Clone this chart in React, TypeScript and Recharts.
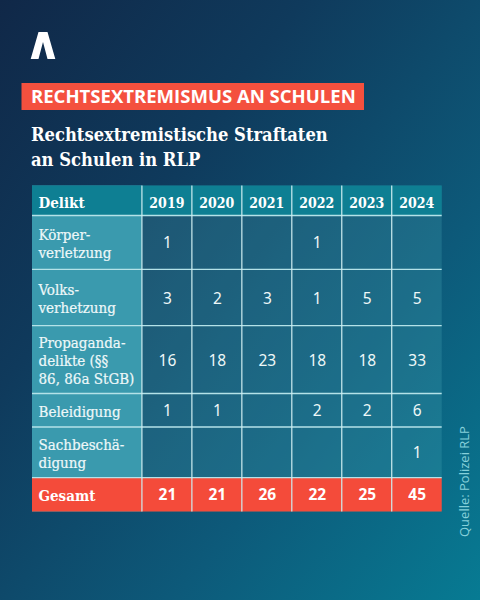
import React from "react";
import { ScatterChart, Scatter, XAxis, YAxis, ReferenceArea, ReferenceLine } from "recharts";

// ---- data ----
const years = [2019, 2020, 2021, 2022, 2023, 2024];
const koerperverletzung = [1, null, null, 1, null, null];
const volksverhetzung = [3, 2, 3, 1, 5, 5];
const propaganda = [16, 18, 23, 18, 18, 33];
const beleidigung = [1, 1, null, 2, 2, 6];
const sachbeschaedigung = [null, null, null, null, null, 1];
const gesamt = [21, 21, 26, 22, 25, 45];
const rowSeries = [koerperverletzung, volksverhetzung, propaganda, beleidigung, sachbeschaedigung];
const rowLabels = [
  ["Delikt"],
  ["Körper-", "verletzung"],
  ["Volks-", "verhetzung"],
  ["Propaganda-", "delikte (§§", "86, 86a StGB)"],
  ["Beleidigung"],
  ["Sachbeschä-", "digung"],
  ["Gesamt"],
];

// ---- layout of the table (row heights in y-axis units) ----
const rowUnits = [30, 54, 56.3, 68, 33.5, 50.7, 34];
const rowEdges = rowUnits.reduce<number[]>((a, h) => [...a, a[a.length - 1] + h], [0]);
const rowCenter = (i: number) => (rowEdges[i] + rowEdges[i + 1]) / 2;
const xMin = 2016.8;
const xMax = 2025;
const yMax = rowEdges[rowEdges.length - 1];

const SERIF = "'DejaVu Serif Condensed','DejaVu Serif',serif";
const SANS = "'Noto Sans',sans-serif";

const cellPoints = rowSeries.flatMap((vals, r) =>
  vals.flatMap((v, c) => (v == null ? [] : [{ x: years[c] + 0.5, y: rowCenter(r + 1), value: v }]))
);
const totalPoints = gesamt.map((v, c) => ({ x: years[c] + 0.5, y: rowCenter(6), value: v }));

const ValueMark = (p: any) => (
  <text x={p.cx + 0.5} y={p.cy + 6} textAnchor="middle" fontFamily={SANS} fontSize={15.5} fill="#eef8f8">
    {p.payload.value}
  </text>
);
const TotalMark = (p: any) => (
  <text x={p.cx + 0.5} y={p.cy + 5.5} textAnchor="middle" fontFamily={SANS} fontWeight={700} fontSize={15.5} fill="#ffffff">
    {p.payload.value}
  </text>
);

const RowTick = (p: any) => {
  const idx = rowEdges.findIndex((_, i) => Math.abs(rowCenter(i) - p.payload.value) < 0.01);
  const lines = rowLabels[idx] ?? [];
  const bold = idx === 0 || idx === 6;
  const lh = 18.4;
  const y0 = p.y - ((lines.length - 1) * lh) / 2 + 6;
  return (
    <text fontFamily={SERIF} fontSize={15} fontWeight={bold ? 700 : 400} fill={bold ? "#ffffff" : "#eef8f9"} stroke={bold ? "none" : "#eef8f9"} strokeWidth={bold ? 0 : 0.2}>
      {lines.map((l: string, i: number) => (
        <tspan key={i} x={38.5} y={y0 + i * lh + (idx === 0 ? 2 : 0.5)}>
          {l}
        </tspan>
      ))}
    </text>
  );
};

export default function App() {
  return (
    <div
      style={{
        position: "fixed",
        left: 0,
        top: 0,
        width: 480,
        height: 600,
        overflow: "hidden",
        background: "linear-gradient(128deg,#102848 0%,#0f3a5c 32%,#0d5a7a 68%,#077b93 100%)",
      }}
    >
      <svg width={480} height={600} style={{ position: "absolute", left: 0, top: 0 }}>
        <polygon points="30.7,59 38.5,32 47.5,32 55.3,59 47.5,59 43,42 38.5,59" fill="#ffffff" />
        <rect x={21.5} y={83} width={342.5} height={27} fill="#f4503e" />
        <text x={31} y={103} fontFamily="'Open Sans',sans-serif" fontWeight={700} fontSize={18.55} fill="#ffffff">
          RECHTSEXTREMISMUS AN SCHULEN
        </text>
        <text fontFamily={SERIF} fontWeight={700} fontSize={18.2} fill="#ffffff">
          <tspan x={31} y={141}>Rechtsextremistische Straftaten</tspan>
          <tspan x={31} y={166}>an Schulen in RLP</tspan>
        </text>
        <text
          transform="translate(469,537) rotate(-90)"
          fontFamily="'Open Sans',sans-serif"
          fontSize={13}
          fill="#86d0da"
        >
          Quelle: Polizei RLP
        </text>
      </svg>
      <div style={{ position: "absolute", left: 0, top: 0 }}>
        <ScatterChart width={480} height={600} margin={{ top: 185.5, left: 32, right: 38.3, bottom: 88.4 }}>
          <XAxis
            type="number"
            dataKey="x"
            orientation="top"
            mirror
            domain={[xMin, xMax]}
            allowDataOverflow
            ticks={years.map((y) => y + 0.5)}
            tickFormatter={(v: number) => String(Math.floor(v))}
            interval={0}
            axisLine={false}
            tickLine={false}
            tickSize={0}
            tick={{ fontFamily: SERIF, fontWeight: 700, fontSize: 14, fill: "#ffffff", dy: 11 }}
          />
          <YAxis
            type="number"
            dataKey="y"
            reversed
            mirror
            domain={[0, yMax]}
            allowDataOverflow
            ticks={rowUnits.map((_, i) => rowCenter(i))}
            interval={0}
            axisLine={false}
            tickLine={false}
            tick={<RowTick />}
          />
          <ReferenceArea x1={xMin} x2={2019} y1={0} y2={yMax} fill="#3a9aae" fillOpacity={1} stroke="none" />
          <ReferenceArea x1={2019} x2={xMax} y1={0} y2={yMax} fill="#4fb0bd" fillOpacity={0.24} stroke="none" />
          <ReferenceArea x1={xMin} x2={xMax} y1={rowEdges[0]} y2={rowEdges[1]} fill="#0e7f93" fillOpacity={1} stroke="none" />
          <ReferenceArea x1={xMin} x2={xMax} y1={rowEdges[6]} y2={rowEdges[7]} fill="#f44b3a" fillOpacity={1} stroke="none" />
          {rowEdges.slice(1, -1).map((e) => (
            <ReferenceLine key={e} y={e} stroke="#b4e2e8" strokeWidth={1.4} />
          ))}
          {years.map((y) => (
            <ReferenceLine key={y} x={y} stroke="#cfeef1" strokeWidth={1.2} />
          ))}
          <Scatter data={cellPoints} shape={<ValueMark />} isAnimationActive={false} />
          <Scatter data={totalPoints} shape={<TotalMark />} isAnimationActive={false} />
        </ScatterChart>
      </div>
    </div>
  );
}
